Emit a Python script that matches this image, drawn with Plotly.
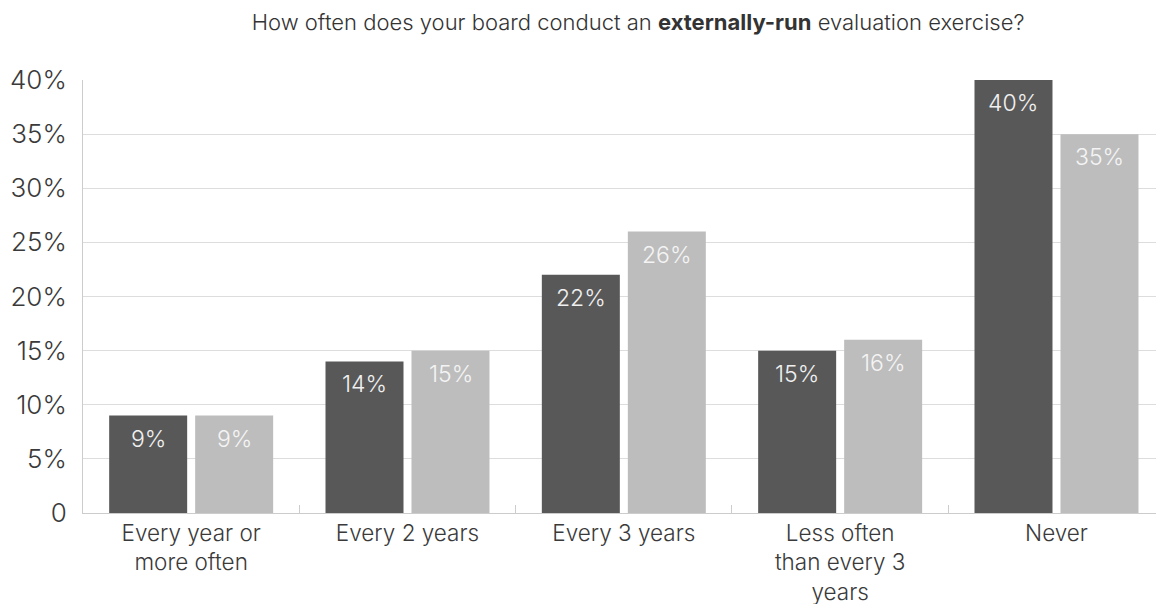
import plotly.graph_objects as go

# Survey responses: frequency of externally-run board evaluations
categories = [
    "Every year or<br>more often",
    "Every 2 years",
    "Every 3 years",
    "Less often<br>than every 3<br>years",
    "Never",
]
series_a = [9, 14, 22, 15, 40]   # dark bars
series_b = [9, 15, 26, 16, 35]   # light bars
y_ticks = [0, 5, 10, 15, 20, 25, 30, 35, 40]
y_tick_text = ["0", "5%", "10%", "15%", "20%", "25%", "30%", "35%", "40%"]

FONT = "Inter, Roboto, sans-serif"
DARK = "#585858"
LIGHT = "#bdbdbd"

fig = go.Figure()
fig.add_trace(go.Bar(x=categories, y=series_a, marker=dict(color=DARK, line=dict(width=0)),
                     name="A", hoverinfo="skip"))
fig.add_trace(go.Bar(x=categories, y=series_b, marker=dict(color=LIGHT, line=dict(width=0)),
                     name="B", hoverinfo="skip"))

# value labels just inside the top of each bar
for vals, shift, col in ((series_a, -43, "#f0f0f0"), (series_b, 43, "#f4f4f4")):
    for cat, v in zip(categories, vals):
        fig.add_annotation(x=cat, y=v, text=f"{v}%", showarrow=False,
                           xshift=shift, yshift=-23, yanchor="middle",
                           font=dict(family=FONT, size=23, color=col, weight=300))

fig.update_layout(
    width=1156, height=604,
    margin=dict(l=83, r=0, t=80, b=91),
    paper_bgcolor="white", plot_bgcolor="white",
    showlegend=False,
    barmode="group", bargap=0.205, bargroupgap=0.093,
    title=dict(
        text="How often does your board conduct an <b>externally-run</b> evaluation exercise?",
        x=0.552, xanchor="center", y=0.963, yanchor="middle",
        font=dict(family=FONT, size=22, color="#333333", weight=300),
    ),
    font=dict(family=FONT, color="#3a3a3a"),
)
fig.update_xaxes(
    range=[-0.5, 4.46],
    showline=True, linecolor="#cccccc", linewidth=1,
    tickson="boundaries", ticks="inside", ticklen=8, tickcolor="#cccccc",
    tickfont=dict(family=FONT, size=22.5, color="#3a3a3a", weight=300),
    showgrid=False,
)
fig.update_yaxes(
    range=[0, 40],
    tickvals=y_ticks, ticktext=y_tick_text,
    showgrid=True, gridcolor="#dddddd", gridwidth=1,
    showline=True, linecolor="#cccccc", linewidth=1,
    zeroline=False, ticks="", ticklabelstandoff=10,
    tickfont=dict(family=FONT, size=26, color="#3a3a3a", weight=300),
)

fig.write_html("out.html")
